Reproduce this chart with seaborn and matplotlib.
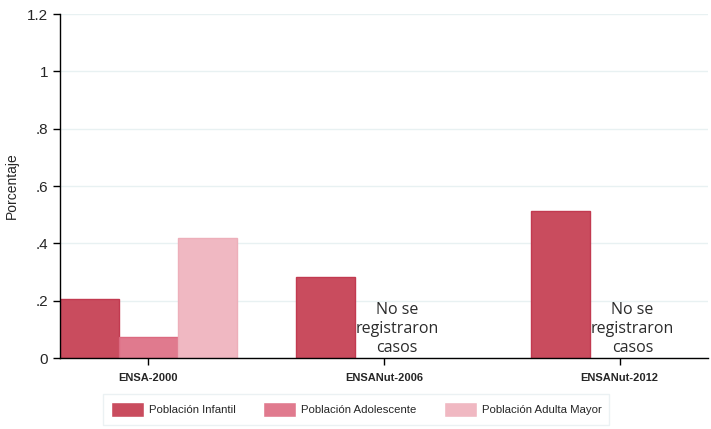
import numpy as np
import pandas as pd
import matplotlib
matplotlib.use("Agg")
import matplotlib.pyplot as plt
import seaborn as sns

encuestas = ["ENSA-2000", "ENSANut-2006", "ENSANut-2012"]
grupos = ["Población Infantil", "Población Adolescente", "Población Adulta Mayor"]
infantil = [0.206, 0.283, 0.513]
adolescente = [0.073, np.nan, np.nan]
adulta_mayor = [0.419, np.nan, np.nan]
yticks = [0, 0.2, 0.4, 0.6, 0.8, 1.0, 1.2]
ytick_labels = ["0", ".2", ".4", ".6", ".8", "1", "1.2"]
sin_casos = ["ENSANut-2006", "ENSANut-2012"]

colores = ["#C94C5E", "#E07A8E", "#F0B8C2"]
bordes = ["#C23A50", "#DC6A80", "#EDAFBA"]

sns.set_style("white")
plt.rcParams['font.family'] = ['Liberation Sans', 'DejaVu Sans']

rows = []
for i, enc in enumerate(encuestas):
    for g, vals in zip(grupos, [infantil, adolescente, adulta_mayor]):
        rows.append({"encuesta": enc, "grupo": g, "valor": vals[i]})
df = pd.DataFrame(rows)

fig = plt.figure(figsize=(7.11, 4.29), dpi=100)
ax = fig.add_axes([60 / 711, 1 - 358 / 429, 648 / 711, 344 / 429])

sns.barplot(data=df, x="encuesta", y="valor", hue="grupo", order=encuestas,
            hue_order=grupos, palette=colores, width=0.75, ax=ax,
            saturation=1, linewidth=1, legend=True)

# bar edges per group
for cont, ec in zip(ax.containers, bordes):
    for bar in cont:
        bar.set_edgecolor(ec)

ax.set_xlim(-0.375, 2.375)
ax.set_ylim(0, 1.2)
ax.set_yticks(yticks)
ax.set_yticklabels(ytick_labels, fontsize=11)
ax.grid(axis="y", color="#E8F1F2", linewidth=1)
ax.set_axisbelow(True)
ax.set_xlabel("")
ax.set_ylabel("Porcentaje", fontsize=10)
ax.yaxis.set_label_coords(-0.063, 0.5)
for lab in ax.get_xticklabels():
    lab.set_fontweight("bold")
    lab.set_fontsize(8)
ax.tick_params(axis="both", direction="out", length=5, width=1, color="black", left=True, bottom=True)
ax.tick_params(axis="x", pad=6)
for s in ["top", "right"]:
    ax.spines[s].set_visible(False)
for s in ["left", "bottom"]:
    ax.spines[s].set_color("black")
    ax.spines[s].set_linewidth(1)

for enc in sin_casos:
    xpos = encuestas.index(enc)
    ax.text(xpos + 0.055, 0.1, "No se\nregistraron\ncasos", ha="center", va="center",
            fontsize=11.5, family="Open Sans", color="#2b2b2b", linespacing=1.25)

handles, labels = ax.get_legend_handles_labels()
ax.legend(handles, labels, loc="upper center", bbox_to_anchor=(356 / 711, 1 - 394 / 429),
          bbox_transform=fig.transFigure, ncol=3, frameon=True, fontsize=8.2,
          edgecolor="#E6EEF0", fancybox=False, borderaxespad=0,
          handlelength=2.9, handleheight=1.6, handletextpad=0.45,
          columnspacing=2.4, borderpad=0.7)

fig.savefig("out.png", dpi=100, facecolor="white")
